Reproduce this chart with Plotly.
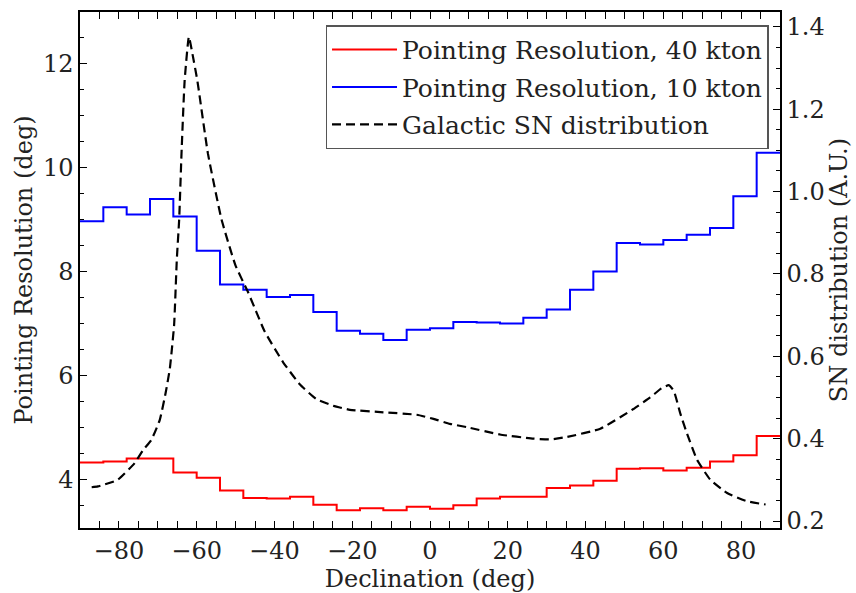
import plotly.graph_objects as go

# Declination bin edges (6 deg bins)
bin_edges = [-90, -84, -78, -72, -66, -60, -54, -48, -42, -36, -30, -24, -18, -12, -6,
             0, 6, 12, 18, 24, 30, 36, 42, 48, 54, 60, 66, 72, 78, 84, 90]

# Pointing resolution, 40 kton (deg)
res_40kton = [4.32, 4.34, 4.40, 4.40, 4.13, 4.03, 3.78, 3.64, 3.63, 3.66,
              3.51, 3.40, 3.44, 3.40, 3.47, 3.43, 3.50, 3.63, 3.66, 3.66,
              3.83, 3.88, 3.97, 4.20, 4.21, 4.17, 4.22, 4.34, 4.46, 4.83]

# Pointing resolution, 10 kton (deg)
res_10kton = [8.97, 9.24, 9.10, 9.40, 9.06, 8.40, 7.75, 7.65, 7.51, 7.55,
              7.22, 6.86, 6.80, 6.68, 6.88, 6.91, 7.03, 7.02, 7.00, 7.11,
              7.27, 7.65, 8.00, 8.55, 8.52, 8.61, 8.71, 8.84, 9.45, 10.29]

# Galactic SN distribution (A.U.)
sn_dec = [-87, -85.4, -80.3, -76, -73.8, -71.7, -69.5, -68, -66.9, -65.8, -65.1, -64.5,
          -63.9, -63.1, -62.0, -61.0, -59.8, -57.1, -53.6, -50.0, -46.8, -42.5, -37.8,
          -33.5, -29.2, -24.9, -20.6, -12.0, -3.4, 0.9, 5.1, 9.4, 18, 26.6, 30.9, 35.2,
          43.8, 52.3, 56.6, 59.5, 61.4, 62.7, 64.4, 66.1, 68.7, 72.1, 76.4, 81.5, 86.3]
sn_val = [0.282, 0.284, 0.30, 0.34, 0.372, 0.396, 0.445, 0.51, 0.57, 0.676, 0.836, 0.932,
          1.092, 1.268, 1.376, 1.33, 1.268, 1.092, 0.932, 0.82, 0.756, 0.66, 0.586,
          0.532, 0.496, 0.48, 0.47, 0.464, 0.458, 0.448, 0.436, 0.428, 0.41, 0.40, 0.398, 0.404,
          0.424, 0.472, 0.50, 0.522, 0.530, 0.516, 0.46, 0.412, 0.348, 0.30, 0.268, 0.248, 0.24]

FONT = "DejaVu Serif"
FS = 24

fig = go.Figure()
fig.add_trace(go.Scatter(x=bin_edges, y=res_40kton + [res_40kton[-1]], mode="lines",
                         line=dict(shape="hv", color="#ff0000", width=2),
                         name="Pointing Resolution, 40 kton", legendgroup="a"))
fig.add_trace(go.Scatter(x=bin_edges, y=res_10kton + [res_10kton[-1]], mode="lines",
                         line=dict(shape="hv", color="#0000ff", width=2),
                         name="Pointing Resolution, 10 kton", legendgroup="b"))
fig.add_trace(go.Scatter(x=sn_dec, y=sn_val, mode="lines", yaxis="y2",
                         line=dict(color="black", width=2.2, dash="9px,5px",
                                   shape="spline", smoothing=0.4),
                         name="Galactic SN distribution", legendgroup="c"))

axis_common = dict(showline=True, linecolor="black", linewidth=1.5, ticks="inside",
                   tickcolor="black", ticklen=7, tickwidth=1.2, showgrid=False,
                   zeroline=False, tickfont=dict(family=FONT, size=FS, color="#222"))

fig.update_layout(
    width=856, height=593,
    margin=dict(l=80, r=76, t=10, b=61),
    plot_bgcolor="white", paper_bgcolor="white",
    font=dict(family=FONT, size=FS, color="#222"),
    xaxis=dict(range=[-90, 90], dtick=20, tick0=0, mirror="allticks",
               minor=dict(dtick=5, ticks="inside", ticklen=4, tickcolor="black"),
               title=dict(text="Declination (deg)", font=dict(family=FONT, size=FS), standoff=2),
               **axis_common),
    yaxis=dict(range=[3.06, 13.0], dtick=2, tick0=0,
               minor=dict(dtick=0.5, ticks="inside", ticklen=4, tickcolor="black"),
               title=dict(text="Pointing Resolution (deg)", font=dict(family=FONT, size=FS), standoff=4),
               **axis_common),
    yaxis2=dict(range=[0.183, 1.436], dtick=0.2, tick0=0, tickformat=".1f",
                overlaying="y", side="right",
                minor=dict(dtick=0.05, ticks="inside", ticklen=4, tickcolor="black"),
                title=dict(text="SN distribution (A.U.)", font=dict(family=FONT, size=FS), standoff=4),
                **axis_common),
    legend=dict(x=0.9836, y=0.9745, xanchor="right", yanchor="top",
                bgcolor="white", bordercolor="#555", borderwidth=1.5,
                font=dict(family=FONT, size=25, color="#222"),
                tracegroupgap=2, itemwidth=65),
    showlegend=True,
)

fig.write_html("out.html")
